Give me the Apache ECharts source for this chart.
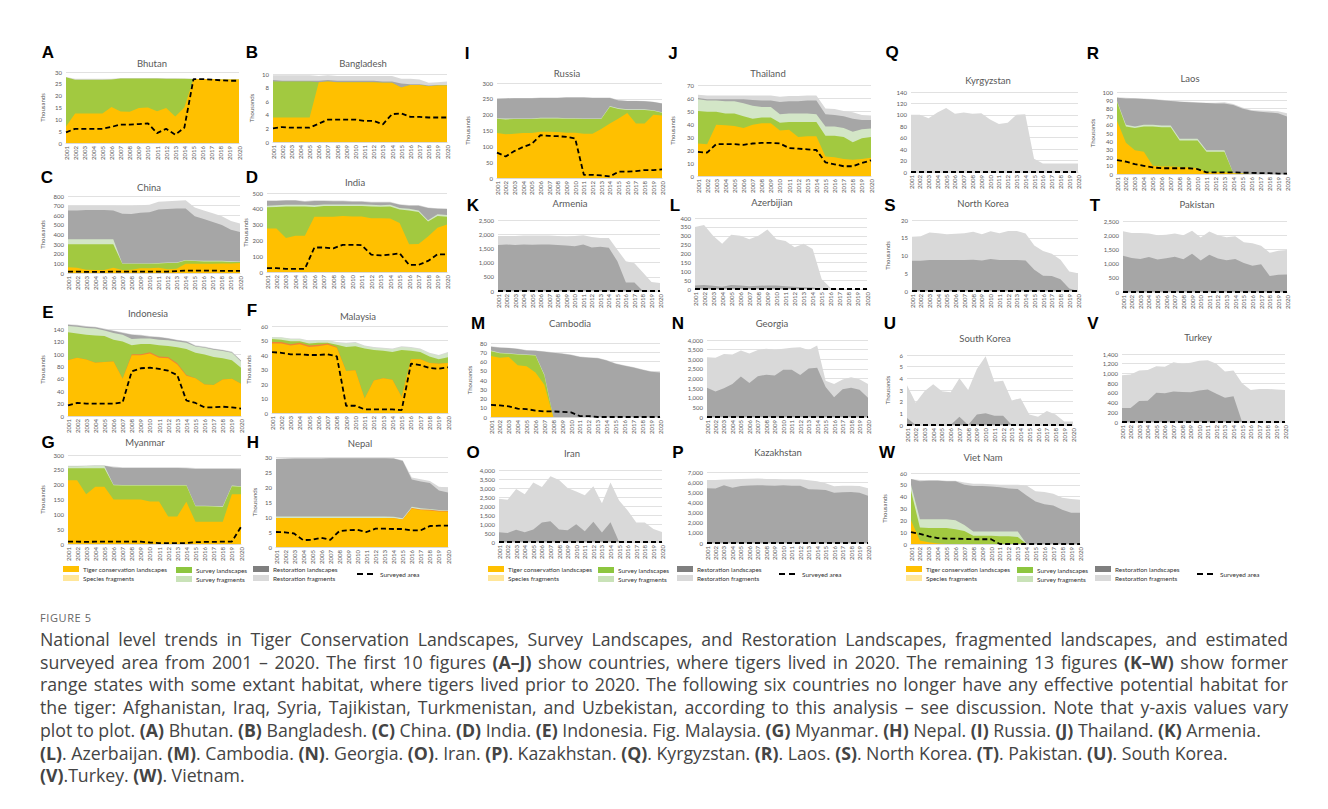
<!DOCTYPE html>
<html>
<head>
<meta charset="utf-8">
<script src="https://cdn.jsdelivr.net/npm/echarts@6/dist/echarts.min.js"></script>
<style>
body{margin:0;background:#fff;width:1328px;height:809px;overflow:hidden;position:relative;}
#main{position:absolute;left:0;top:0;width:1328px;height:600px;}
#cap{position:absolute;left:40px;top:610px;font-family:"Open Sans",sans-serif;color:#444;}
#cap .fig{font-size:11px;letter-spacing:0.6px;color:#666;line-height:16px;}
#cap .txt{font-size:17.7px;line-height:22.7px;margin-top:2px;white-space:nowrap;}
#cap .txt div{width:1248px;}
#cap .txt .j{text-align:justify;text-align-last:justify;}
#cap b{font-weight:700;}
</style>
</head>
<body>
<div id="main"></div>
<div id="cap">
<div class="fig">FIGURE 5</div>
<div class="txt">
<div class="j">National level trends in Tiger Conservation Landscapes, Survey Landscapes, and Restoration Landscapes, fragmented landscapes, and estimated</div>
<div class="j">surveyed area from 2001 – 2020. The first 10 figures <b>(A–J)</b> show countries, where tigers lived in 2020. The remaining 13 figures <b>(K–W)</b> show former</div>
<div class="j">range states with some extant habitat, where tigers lived prior to 2020. The following six countries no longer have any effective potential habitat for</div>
<div class="j">the tiger: Afghanistan, Iraq, Syria, Tajikistan, Turkmenistan, and Uzbekistan, according to this analysis – see discussion. Note that y-axis values vary</div>
<div>plot to plot. <b>(A)</b> Bhutan. <b>(B)</b> Bangladesh. <b>(C)</b> China. <b>(D)</b> India. <b>(E)</b> Indonesia. Fig. Malaysia. <b>(G)</b> Myanmar. <b>(H)</b> Nepal. <b>(I)</b> Russia. <b>(J)</b> Thailand. <b>(K)</b> Armenia.</div>
<div><b>(L)</b>. Azerbaijan. <b>(M)</b>. Cambodia. <b>(N)</b>. Georgia. <b>(O)</b>. Iran. <b>(P)</b>. Kazakhstan. <b>(Q)</b>. Kyrgyzstan. <b>(R)</b>. Laos. <b>(S)</b>. North Korea. <b>(T)</b>. Pakistan. <b>(U)</b>. South Korea.</div>
<div><b>(V)</b>.Turkey. <b>(W)</b>. Vietnam.</div>
</div>
</div>
<script>
var years = ['2001','2002','2003','2004','2005','2006','2007','2008','2009','2010','2011','2012','2013','2014','2015','2016','2017','2018','2019','2020'];

// every layer array is the upper edge of that band in the stack (thousands)
var noSurvey = [0,0,0,0,0,0,0,0,0,0,0,0,0,0,0,0,0,0,0,0];

var bhutanTcl = [7, 12.5, 12.5, 12.5, 12.5, 15.2, 13.3, 13.2, 14.8, 15, 13.4, 14.8, 11.2, 15, 27, 27, 27, 26.8, 26.8, 26.8];
var bhutanSvl = [27.8, 26.7, 26.7, 26.7, 26.7, 26.8, 27.3, 27.3, 27.3, 27.3, 27.3, 27.2, 27.2, 27.2, 27, 27, 27, 26.8, 26.8, 26.8];
var bhutanRsf = [27.9, 27.1, 27.1, 27.1, 27.1, 27.1, 27.5, 27.5, 27.5, 27.5, 27.5, 27.4, 27.4, 27.3, 27.1, 27, 27, 26.8, 26.8, 26.8];
var bhutanArea = [4.5, 6, 6, 6, 6, 6.8, 7.8, 7.8, 8, 8.3, 4.2, 6, 3.5, 6.5, 27, 27, 26.8, 26.5, 26.3, 26.3];

var bangladeshTcl = [3.6, 3.6, 3.6, 3.6, 3.6, 8.8, 8.9, 8.8, 8.8, 8.8, 8.8, 8.8, 8.7, 8.7, 8.0, 8.4, 8.4, 8.2, 8.3, 8.3];
var bangladeshSvl = [8.9, 8.9, 8.9, 8.9, 8.9, 8.8, 8.9, 8.8, 8.8, 8.8, 8.8, 8.8, 8.7, 8.7, 8.0, 8.4, 8.4, 8.2, 8.3, 8.3];
var bangladeshRsl = [9.1, 9.0, 9.0, 9.0, 9.0, 9.0, 9.1, 9.0, 9.0, 9.0, 9.0, 9.0, 8.9, 8.9, 8.6, 8.5, 8.5, 8.3, 8.4, 8.4];
var bangladeshRsf = [9.8, 9.8, 9.8, 9.8, 9.8, 9.7, 9.8, 9.7, 9.7, 9.7, 9.7, 9.7, 9.7, 9.7, 9.3, 9.3, 9.2, 8.7, 8.8, 8.9];
var bangladeshArea = [2.0, 2.2, 2.1, 2.1, 2.1, 2.7, 3.3, 3.3, 3.3, 3.3, 3.1, 3.1, 2.6, 4.1, 4.2, 3.7, 3.7, 3.6, 3.6, 3.6];

var russiaTcl = [142, 138, 140, 142, 142, 146, 146, 145, 143, 143, 140, 140, 155, 172, 188, 205, 172, 172, 200, 197];
var russiaSvl = [187, 185, 186, 186, 186, 188, 188, 188, 187, 187, 186, 186, 186, 225, 218, 215, 215, 215, 212, 206];
var russiaSvf = [189, 188, 188, 188, 188, 190, 190, 190, 189, 189, 188, 188, 188, 227, 220, 217, 217, 217, 214, 208];
var russiaRsl = [250, 251, 252, 252, 252, 253, 253, 253, 254, 254, 254, 253, 253, 253, 245, 243, 243, 242, 240, 235];
var russiaRsf = [251, 252, 253, 253, 253, 254, 254, 254, 255, 255, 255, 254, 254, 254, 246, 244, 244, 243, 241, 236];
var russiaArea = [80, 68, 85, 98, 108, 135, 133, 132, 130, 125, 10, 10, 8, 5, 20, 20, 22, 25, 25, 27];

var thailandTcl = [25, 24.5, 39.5, 39, 38.5, 37, 39.5, 40.5, 40.5, 35, 35.5, 30, 30.5, 30.5, 15, 14.5, 13, 12.5, 13, 14];
var thailandSvl = [50, 49.5, 49.5, 48, 48, 46, 44, 45, 45, 41, 41.5, 41.5, 41.5, 41.5, 31, 31, 30, 26, 29, 30];
var thailandSvf = [59, 58, 58, 57.5, 57.5, 56, 54, 53, 53, 47.5, 48, 48, 48, 47.5, 38, 38, 37, 34, 36, 36.5];
var thailandRsl = [60, 59, 59, 59, 59, 59, 58.5, 58, 58, 57, 57.5, 57.5, 58, 58, 47.5, 47, 46, 44, 43, 43];
var thailandRsf = [62.5, 62, 62, 62, 62, 62, 62, 62, 62, 61, 61.5, 61.5, 62, 62, 52, 51.5, 50, 49, 47, 46.5];
var thailandArea = [18.5, 18, 24.5, 24.5, 24.5, 24, 25, 25.5, 25.5, 25, 21.5, 21, 20.5, 20, 10.5, 9, 7.5, 7.5, 10, 12];

var kyrgyzstanRsf = [100, 100, 94, 104, 112, 102, 104, 102, 103, 92, 84, 86, 100, 101, 23, 15, 15, 15, 15, 15];

var laosTcl = [65, 38, 29, 27, 10, 9, 9, 8.5, 8, 7, 2, 2, 2, 1, 0.5, 0, 0, 0, 0, 0];
var laosSvl = [88, 58, 56, 58, 58, 57, 57, 41, 41, 41, 27, 27, 27, 1, 0.5, 0, 0, 0, 0, 0];
var laosSvf = [89, 60, 58, 60, 60, 59, 59, 43, 43, 43, 29, 29, 29, 1, 0.5, 0, 0, 0, 0, 0];
var laosRsl = [93, 92, 92, 91.5, 91, 90, 89, 88, 87.5, 87, 86.5, 86, 86, 84, 80, 77, 76, 75, 74, 70];
var laosRsf = [93.5, 93, 92.5, 92, 91.5, 90.5, 89.5, 88.5, 88, 87.5, 87, 87, 87.5, 85.5, 81, 78, 77.5, 77, 76.5, 74];
var laosArea = [17, 15, 12, 10, 8, 7, 7, 7, 7, 6, 2, 2, 2, 2, 1.5, 1.5, 1, 1, 0.5, 0.5];

var chinaTcl = [60, 55, 35, 30, 30, 55, 30, 35, 50, 50, 55, 40, 45, 95, 95, 95, 95, 100, 100, 105];
var chinaSvl = [300, 300, 300, 300, 300, 300, 95, 95, 95, 95, 100, 105, 105, 130, 125, 120, 120, 120, 115, 115];
var chinaSvf = [350, 350, 350, 350, 350, 350, 100, 100, 100, 100, 105, 110, 110, 135, 130, 128, 127, 126, 122, 120];
var chinaRsl = [650, 650, 655, 655, 655, 650, 615, 612, 625, 630, 660, 665, 670, 670, 590, 560, 530, 500, 450, 425];
var chinaRsf = [700, 700, 700, 700, 700, 700, 695, 695, 705, 710, 740, 745, 750, 755, 680, 650, 620, 590, 540, 515];
var chinaArea = [15, 15, 12, 12, 12, 15, 15, 15, 15, 15, 15, 15, 20, 25, 25, 25, 25, 22, 22, 22];

var indiaTcl = [275, 275, 215, 230, 230, 350, 350, 350, 355, 352, 352, 340, 340, 338, 310, 175, 178, 225, 280, 300];
var indiaSvl = [410, 412, 415, 415, 415, 412, 418, 418, 417, 417, 417, 415, 413, 415, 395, 390, 380, 320, 355, 350];
var indiaSvf = [420, 422, 425, 425, 425, 422, 428, 428, 427, 427, 427, 425, 423, 425, 405, 400, 390, 327, 365, 360];
var indiaRsl = [450, 450, 452, 452, 445, 450, 450, 448, 448, 445, 445, 440, 440, 440, 425, 420, 420, 405, 400, 398];
var indiaRsf = [454, 454, 456, 456, 449, 454, 454, 452, 452, 449, 449, 444, 444, 444, 429, 424, 424, 409, 404, 402];
var indiaArea = [25, 25, 20, 20, 20, 155, 155, 150, 172, 172, 170, 110, 105, 110, 118, 45, 45, 70, 112, 112];

var armeniaRsl = [1620, 1640, 1620, 1640, 1630, 1640, 1640, 1620, 1600, 1580, 1640, 1530, 1560, 1520, 1050, 300, 300, 0, 0, 0];
var armeniaRsf = [1940, 1940, 1940, 1950, 1950, 1950, 1950, 1940, 1930, 1940, 1960, 1900, 1870, 1870, 1450, 1050, 980, 650, 320, 280];

var azerbijianRsl = [20, 22, 18, 12, 22, 20, 15, 18, 20, 20, 15, 12, 10, 8, 0, 0, 0, 0, 0, 0];
var azerbijianRsf = [350, 360, 300, 255, 305, 300, 280, 300, 335, 280, 270, 235, 255, 225, 55, 5, 2, 0, 0, 0];

var northKoreaRsl = [8.5, 8.5, 8.7, 8.7, 8.7, 8.7, 8.7, 8.8, 8.6, 9.0, 8.7, 8.7, 8.7, 8.6, 6.0, 4.3, 4.2, 3.3, 0.7, 0];
var northKoreaRsf = [15.3, 15.4, 16.5, 16.3, 16.0, 16.1, 16.3, 16.7, 16.0, 16.8, 16.3, 16.9, 16.9, 16.2, 12.8, 11.3, 10.5, 8.8, 5.5, 5.0];

var pakistanRsl = [1280, 1200, 1160, 1230, 1140, 1190, 1240, 1150, 1350, 1110, 1310, 1180, 1120, 1160, 1020, 920, 980, 560, 610, 620];
var pakistanRsf = [2140, 2080, 2080, 2060, 2000, 2020, 2060, 2000, 2160, 1920, 2130, 2000, 1930, 1960, 1750, 1720, 1630, 1380, 1450, 1480];

var indonesiaTcl = [90, 94, 91, 86, 87, 88, 60, 98, 98, 101, 94, 93, 83, 65, 61, 51, 50, 59, 60, 52];
var indonesiaSpf = [90, 94, 91, 86, 87, 88, 60, 99.5, 99.5, 103, 96, 95, 85, 66, 61, 51, 50, 59, 60, 52];
var indonesiaSvl = [135, 133, 131, 130, 129, 123, 120, 114, 116, 116, 114, 113, 111, 108, 102, 99, 95, 93, 90, 78];
var indonesiaSvf = [145, 144, 142, 141, 138, 134, 131, 124, 125, 125, 123, 122, 120, 118, 112, 110, 107, 105, 102, 88];
var indonesiaRsl = [147, 146, 144, 143, 140, 137, 134, 131, 130, 128, 127, 125, 122, 120, 113, 111, 108, 106, 103, 89];
var indonesiaRsf = [148, 147, 145, 144, 141, 138, 135, 132, 131, 129, 128, 126, 123, 121, 114, 112, 109, 107, 104, 90];
var indonesiaArea = [17, 21, 20, 20, 20, 20, 22, 72, 77, 78, 76, 73, 66, 25, 21, 14, 14, 15, 14, 12];

var malaysiaTcl = [48, 48, 46.5, 47.5, 45.5, 46, 47, 45, 29, 29.5, 10, 22.5, 24, 23, 11, 37, 37, 34.5, 34, 34.5];
var malaysiaSpf = [49, 49, 47.5, 48.5, 46.5, 47, 48, 45.5, 29, 29.5, 10, 22.5, 24, 23, 11, 37, 37, 34.5, 34, 34.5];
var malaysiaSvl = [51, 50.5, 49.5, 49.5, 48, 48.5, 48.5, 47, 45.5, 46, 44.5, 43.5, 43, 42, 43.5, 43, 42, 39, 37, 38.5];
var malaysiaSvf = [52, 52, 51, 51, 49.5, 50, 50, 48.5, 48, 48.5, 46, 45, 44.5, 44, 45.5, 45, 44, 41, 39.5, 41.5];
var malaysiaRsf = [52.5, 52.3, 51.3, 51.3, 50, 50.4, 50.4, 49, 48.5, 49, 46.5, 45.5, 45, 44.5, 46, 45.5, 44.5, 41.5, 40, 42];
var malaysiaArea = [42, 41.5, 40.5, 40.5, 40, 40, 40.5, 39, 5, 5, 2.5, 2.5, 2.5, 2.5, 2, 34, 33, 31, 30.5, 31.5];

var cambodiaTcl = [66, 64, 65, 56, 55, 48, 35, 0, 0, 0, 0, 0, 0, 0, 0, 0, 0, 0, 0, 0];
var cambodiaSvl = [71, 69, 68.5, 67.5, 67, 66.5, 45, 0, 0, 0, 0, 0, 0, 0, 0, 0, 0, 0, 0, 0];
var cambodiaSvf = [72, 69.5, 69, 68, 67.5, 67, 46, 0, 0, 0, 0, 0, 0, 0, 0, 0, 0, 0, 0, 0];
var cambodiaRsl = [76, 75, 74.5, 73.5, 72, 71.5, 70.5, 69.5, 68.5, 67, 65, 64, 63.5, 61, 57.5, 55.5, 53.5, 51, 49, 48];
var cambodiaRsf = [76.5, 75.5, 75, 74, 72.5, 72, 71, 70, 69, 67.5, 65.5, 64.5, 64, 61.5, 58, 56, 54, 51.5, 49.5, 48.5];
var cambodiaArea = [13, 12.5, 11.5, 9, 8.5, 7, 6, 6, 5.5, 5, 1, 1, 0, 0, 0, 0, 0, 0, 0, 0];

var georgiaRsl = [1520, 1320, 1500, 1720, 2100, 1760, 2120, 2200, 2160, 2460, 2460, 2180, 2520, 2560, 1560, 1030, 1440, 1520, 1420, 1000];
var georgiaRsf = [3100, 3080, 3270, 3250, 3450, 3300, 3480, 3550, 3500, 3550, 3600, 3620, 3480, 3720, 1880, 1720, 1950, 2060, 1960, 1720];

var southKoreaRsl = [0.6, 0, 0, 0, 0, 0, 0.7, 0, 0.9, 1.0, 0.8, 0.8, 0, 0, 0, 0, 0, 0, 0, 0];
var southKoreaRsf = [3.4, 1.9, 2.9, 3.5, 2.9, 2.8, 4.0, 3.0, 4.8, 5.9, 3.7, 3.8, 2.1, 2.3, 0.9, 0.7, 1.2, 0.9, 0.3, 0.3];

var turkeyRsl = [290, 290, 430, 440, 600, 590, 630, 620, 610, 650, 670, 580, 500, 530, 0, 0, 0, 0, 0, 0];
var turkeyRsf = [960, 980, 1060, 1070, 1150, 1140, 1230, 1200, 1220, 1260, 1270, 1200, 1040, 1060, 800, 660, 680, 680, 670, 660];

var myanmarTcl = [215, 215, 168, 193, 193, 150, 150, 150, 150, 143, 143, 93, 93, 142, 75, 75, 75, 75, 168, 168];
var myanmarSvl = [255, 255, 255, 255, 255, 198, 197, 197, 197, 197, 197, 197, 197, 197, 127, 127, 126, 125, 195, 193];
var myanmarSvf = [262, 262, 263, 264, 264, 200, 199, 199, 199, 199, 199, 199, 199, 199, 129, 129, 128, 127, 197, 195];
var myanmarRsl = [262, 262, 263, 264, 264, 258, 256, 256, 256, 256, 256, 256, 256, 255, 253, 253, 253, 253, 253, 252];
var myanmarRsf = [264, 264, 265, 265, 265, 261, 259, 259, 259, 259, 259, 259, 259, 258, 256, 256, 256, 256, 256, 256];
var myanmarArea = [8, 8, 7, 8, 8, 8, 8, 8, 8, 5, 3, 3, 3, 3, 6, 7, 7, 8, 8, 58];

var nepalTcl = [9.7, 9.7, 9.7, 9.7, 9.7, 9.7, 9.7, 9.7, 9.7, 9.7, 9.7, 9.7, 9.7, 9.6, 9.2, 12.8, 12.3, 12.2, 11.8, 11.8];
var nepalSpf = [9.7, 9.7, 9.7, 9.7, 9.7, 9.7, 9.7, 9.7, 9.7, 9.7, 9.7, 9.7, 9.7, 9.6, 9.2, 13.0, 12.5, 12.4, 12.1, 12.0];
var nepalSvf = [10.2, 10.2, 10.2, 10.2, 10.2, 10.2, 10.2, 10.2, 10.2, 10.2, 10.2, 10.2, 10.2, 10.1, 9.6, 13.4, 12.9, 12.7, 12.3, 12.2];
var nepalRsl = [29.3, 29.4, 29.5, 29.5, 29.5, 29.5, 29.6, 29.6, 29.6, 29.6, 29.6, 29.6, 29.6, 29.5, 28.7, 22.5, 21.8, 21.3, 18.8, 18.2];
var nepalRsf = [29.4, 29.5, 29.6, 29.6, 29.6, 29.6, 29.7, 29.7, 29.7, 29.7, 29.7, 29.7, 29.7, 29.6, 28.9, 23.2, 22.6, 22.0, 20.1, 19.8];
var nepalArea = [5.0, 4.9, 4.5, 2.3, 2.4, 3.1, 2.4, 5.3, 5.6, 5.7, 5.0, 6.1, 6.1, 6.0, 6.0, 5.5, 5.6, 7.0, 7.1, 7.1];

var iranRsl = [540, 500, 680, 540, 700, 1080, 1150, 700, 650, 980, 600, 1120, 530, 1100, 0, 0, 0, 0, 0, 0];
var iranRsf = [2400, 2350, 2950, 2650, 3300, 3050, 3650, 3450, 3000, 2800, 2600, 3100, 2150, 3300, 2300, 1750, 1080, 1080, 720, 550];

var kazakhstanRsl = [5400, 5380, 5700, 5450, 5620, 5680, 5700, 5680, 5650, 5700, 5650, 5650, 5300, 5280, 5220, 4950, 5000, 5020, 4950, 4650];
var kazakhstanRsf = [6200, 6200, 6250, 6280, 6300, 6330, 6350, 6320, 6300, 6280, 6280, 6280, 6180, 6080, 5900, 5600, 5650, 5650, 5620, 5400];

var vietNamTcl = [20, 3, 1.5, 0.5, 0, 0, 0, 0, 0, 0, 0, 0, 0, 0, 0, 0, 0, 0, 0, 0];
var vietNamSvl = [45, 14, 13.5, 13.5, 13.5, 12.5, 11, 7, 7, 7, 6.5, 6.5, 6, 0, 0, 0, 0, 0, 0, 0];
var vietNamSvf = [50, 21, 21, 21, 21, 20, 16, 10.5, 10.5, 10.5, 10.5, 10.5, 10.5, 0, 0, 0, 0, 0, 0, 0];
var vietNamRsl = [55, 53, 53.5, 53.5, 53, 53, 50, 49, 49, 48.5, 48, 47, 46.5, 41, 36, 33.5, 32.5, 29, 26.5, 26.5];
var vietNamRsf = [55, 54, 54, 54, 53.5, 53.5, 52, 51, 51, 50.5, 50, 50, 50, 49.5, 44.5, 44, 42.5, 39, 38, 37.5];
var vietNamArea = [10, 8.5, 6.5, 5, 4.5, 4.5, 4.3, 4, 4, 4, 0, 0, 0, 0, 0, 0, 0, 0, 0, 0];

var layerOrder = ['rsf','rsl','svf','svl','spf','tcl'];
var areaColor = {tcl:'#FFC000', spf:'#EE8536', svl:'#A2C940', svf:'#D3E6C7', rsl:'#A6A6A6', rsf:'#D9D9D9'};
var keyColor = {tcl:'#FFC000', spf:'#FFE699', svl:'#8DC63F', svf:'#C9E2B8', rsl:'#7F7F7F', rsf:'#D9D9D9'};

// box = plot area [left, top, width, height]; gap = distance of "Thousands" label (0 = none)
var panels = [
  {tag:'A', name:'Bhutan', box:[66,72,173,71], max:30, step:5, gap:21, tp:[152,63], lp:[48,52], tcl:bhutanTcl, svl:bhutanSvl, rsf:bhutanRsf, area:bhutanArea},
  {tag:'B', name:'Bangladesh', box:[273,74,174,68], max:10, step:2, gap:19, tp:[363,63], lp:[252,52], tcl:bangladeshTcl, svl:bangladeshSvl, rsl:bangladeshRsl, rsf:bangladeshRsf, area:bangladeshArea},
  {tag:'I', name:'Russia', box:[497,83,165,95], max:300, step:50, gap:27, tp:[567,73], lp:[467,53], tcl:russiaTcl, svl:russiaSvl, svf:russiaSvf, rsl:russiaRsl, rsf:russiaRsf, area:russiaArea},
  {tag:'J', name:'Thailand', box:[698,85,173,91], max:70, step:10, gap:23, tp:[768,73], lp:[673,53], tcl:thailandTcl, svl:thailandSvl, svf:thailandSvf, rsl:thailandRsl, rsf:thailandRsf, area:thailandArea},
  {tag:'Q', name:'Kyrgyzstan', box:[911,92,167,80], max:140, step:20, gap:0, tp:[988,80], lp:[892,52], rsf:kyrgyzstanRsf, area:noSurvey},
  {tag:'R', name:'Laos', box:[1117,92,170,82], max:100, step:10, gap:22, tp:[1190,78], lp:[1093,53], tcl:laosTcl, svl:laosSvl, svf:laosSvf, rsl:laosRsl, rsf:laosRsf, area:laosArea},
  {tag:'C', name:'China', box:[68,196,172,77], max:800, step:100, gap:23, tp:[149,187], lp:[47,177], tcl:chinaTcl, svl:chinaSvl, svf:chinaSvf, rsl:chinaRsl, rsf:chinaRsf, area:chinaArea},
  {tag:'D', name:'India', box:[267,193,180,79], max:500, step:100, gap:19, tp:[355,182], lp:[252,177], tcl:indiaTcl, svl:indiaSvl, svf:indiaSvf, rsl:indiaRsl, rsf:indiaRsf, area:indiaArea},
  {tag:'K', name:'Armenia', box:[498,220,162,71], max:2500, step:500, gap:0, tp:[570,203], lp:[473,205], rsl:armeniaRsl, rsf:armeniaRsf, area:noSurvey},
  {tag:'L', name:'Azerbijian', box:[695,218,172,71], max:400, step:50, gap:0, tp:[772,202], lp:[675,205], rsl:azerbijianRsl, rsf:azerbijianRsf, area:noSurvey},
  {tag:'S', name:'North Korea', box:[912,220,166,71], max:20, step:5, gap:22, tp:[983,203], lp:[890,205], rsl:northKoreaRsl, rsf:northKoreaRsf, area:noSurvey},
  {tag:'T', name:'Pakistan', box:[1123,221,164,71], max:2500, step:500, gap:0, tp:[1197,204], lp:[1095,205], rsl:pakistanRsl, rsf:pakistanRsf, area:noSurvey},
  {tag:'E', name:'Indonesia', box:[68,323,173,93], max:150, step:20, gap:23, tp:[148,313], lp:[48,312], tcl:indonesiaTcl, spf:indonesiaSpf, svl:indonesiaSvl, svf:indonesiaSvf, rsl:indonesiaRsl, rsf:indonesiaRsf, area:indonesiaArea},
  {tag:'F', name:'Malaysia', box:[272,326,176,87], max:60, step:10, gap:21, tp:[358,316], lp:[252,310], tcl:malaysiaTcl, spf:malaysiaSpf, svl:malaysiaSvl, svf:malaysiaSvf, rsf:malaysiaRsf, area:malaysiaArea},
  {tag:'M', name:'Cambodia', box:[491,343,169,74], max:80, step:10, gap:19, tp:[570,323], lp:[478,323], tcl:cambodiaTcl, svl:cambodiaSvl, svf:cambodiaSvf, rsl:cambodiaRsl, rsf:cambodiaRsf, area:cambodiaArea},
  {tag:'N', name:'Georgia', box:[707,340,161,77], max:4000, step:500, gap:0, tp:[772,323], lp:[678,323], rsl:georgiaRsl, rsf:georgiaRsf, area:noSurvey},
  {tag:'U', name:'South Korea', box:[907,355,166,70], max:6, step:1, gap:17, tp:[985,338], lp:[890,323], rsl:southKoreaRsl, rsf:southKoreaRsf, area:noSurvey},
  {tag:'V', name:'Turkey', box:[1122,354,163,68], max:1400, step:200, gap:0, tp:[1198,337], lp:[1093,323], rsl:turkeyRsl, rsf:turkeyRsf, area:noSurvey},
  {tag:'G', name:'Myanmar', box:[68,455,173,89], max:300, step:50, gap:23, tp:[145,442], lp:[48,442], tcl:myanmarTcl, svl:myanmarSvl, svf:myanmarSvf, rsl:myanmarRsl, rsf:myanmarRsf, area:myanmarArea},
  {tag:'H', name:'Nepal', box:[276,457,172,90], max:30, step:5, gap:19, tp:[360,443], lp:[253,442], tcl:nepalTcl, spf:nepalSpf, svf:nepalSvf, rsl:nepalRsl, rsf:nepalRsf, area:nepalArea},
  {tag:'O', name:'Iran', box:[499,470,163,72], max:4000, step:500, gap:0, tp:[572,453], lp:[473,452], rsl:iranRsl, rsf:iranRsf, area:noSurvey},
  {tag:'P', name:'Kazakhstan', box:[707,472,161,71], max:7000, step:1000, gap:0, tp:[778,452], lp:[678,452], rsl:kazakhstanRsl, rsf:kazakhstanRsf, area:noSurvey},
  {tag:'W', name:'Viet Nam', box:[911,473,169,71], max:60, step:10, gap:24, tp:[983,457], lp:[887,452], tcl:vietNamTcl, svl:vietNamSvl, svf:vietNamSvf, rsl:vietNamRsl, rsf:vietNamRsf, area:vietNamArea}
];

var FONT = 'Lato, "Open Sans", sans-serif';
var grids = [], xAxes = [], yAxes = [], series = [], graphic = [];

panels.forEach(function(p, i){
  grids.push({left:p.box[0], top:p.box[1], width:p.box[2], height:p.box[3]});
  xAxes.push({
    gridIndex:i, type:'category', data:years, boundaryGap:false,
    axisTick:{show:false},
    axisLine:{lineStyle:{color:'#D9D9D9', width:1}},
    axisLabel:{rotate:90, interval:0, fontSize:6, color:'#595959', margin:3, fontFamily:FONT}
  });
  yAxes.push({
    gridIndex:i, type:'value', min:0, max:p.max, interval:p.step,
    name: p.gap ? 'Thousands' : '', nameLocation:'middle', nameGap:p.gap, nameRotate:90,
    nameTextStyle:{fontSize:6, color:'#595959', fontFamily:FONT},
    axisLine:{show:false}, axisTick:{show:false},
    axisLabel:{fontSize:6, color:'#595959', margin:4, fontFamily:FONT, showMaxLabel: p.max % p.step === 0,
      formatter:function(v){ return v.toLocaleString('en-US'); }},
    splitLine:{showMaxLine: p.max % p.step === 0, lineStyle:{color:'#D9D9D9', width:0.8}}
  });
  layerOrder.forEach(function(k){
    if (!p[k]) return;
    series.push({
      type:'line', xAxisIndex:i, yAxisIndex:i, data:p[k], symbol:'none', silent:true,
      lineStyle:{width:0, opacity:0}, areaStyle:{color:areaColor[k], opacity:1}
    });
  });
  series.push({
    type:'line', xAxisIndex:i, yAxisIndex:i, data:p.area, symbol:'none', silent:true,
    lineStyle:{color:'#000', width:1.8, type:[5,3]}
  });
  graphic.push({type:'text', x:p.tp[0], y:p.tp[1], style:{text:p.name, fill:'#595959', font:'9.5px ' + FONT, textAlign:'center', textVerticalAlign:'middle'}});
  graphic.push({type:'text', x:p.lp[0], y:p.lp[1], style:{text:p.tag, fill:'#000', font:'bold 17px "Liberation Sans", Arial, sans-serif', textAlign:'center', textVerticalAlign:'middle'}});
});

// legends (three copies under the bottom rows)
function addLegend(cols){
  var r1 = 569, r2 = 578;
  var rows = [
    [cols[0], r1, 'tcl', 'Tiger conservation landscapes'], [cols[0], r2, 'spf', 'Species fragments'],
    [cols[1], r1 + 1, 'svl', 'Survey landscapes'], [cols[1], r2 + 1, 'svf', 'Survey fragments'],
    [cols[2], r1, 'rsl', 'Restoration landscapes'], [cols[2], r2, 'rsf', 'Restoration fragments']
  ];
  rows.forEach(function(r){
    graphic.push({type:'rect', shape:{x:r[0], y:r[1] - 3, width:16, height:6}, style:{fill:keyColor[r[2]]}});
    graphic.push({type:'text', x:r[0] + 20, y:r[1], style:{text:r[3], fill:'#333', font:'6.4px ' + FONT, textVerticalAlign:'middle'}});
  });
  graphic.push({type:'line', shape:{x1:cols[3], y1:574, x2:cols[3] + 16, y2:574}, style:{stroke:'#000', lineWidth:2, lineDash:[6,4]}});
  graphic.push({type:'text', x:cols[3] + 23, y:574, style:{text:'Surveyed area', fill:'#333', font:'6.4px ' + FONT, textVerticalAlign:'middle'}});
}
addLegend([63, 176, 253, 357]);
addLegend([488, 598, 677, 779]);
addLegend([906, 1017, 1095, 1197]);

var myChart = echarts.init(document.getElementById('main'), null, {renderer:'svg'});
myChart.setOption({
  animation:false,
  backgroundColor:'#fff',
  grid:grids, xAxis:xAxes, yAxis:yAxes, series:series, graphic:graphic
});
</script>
</body>
</html>
